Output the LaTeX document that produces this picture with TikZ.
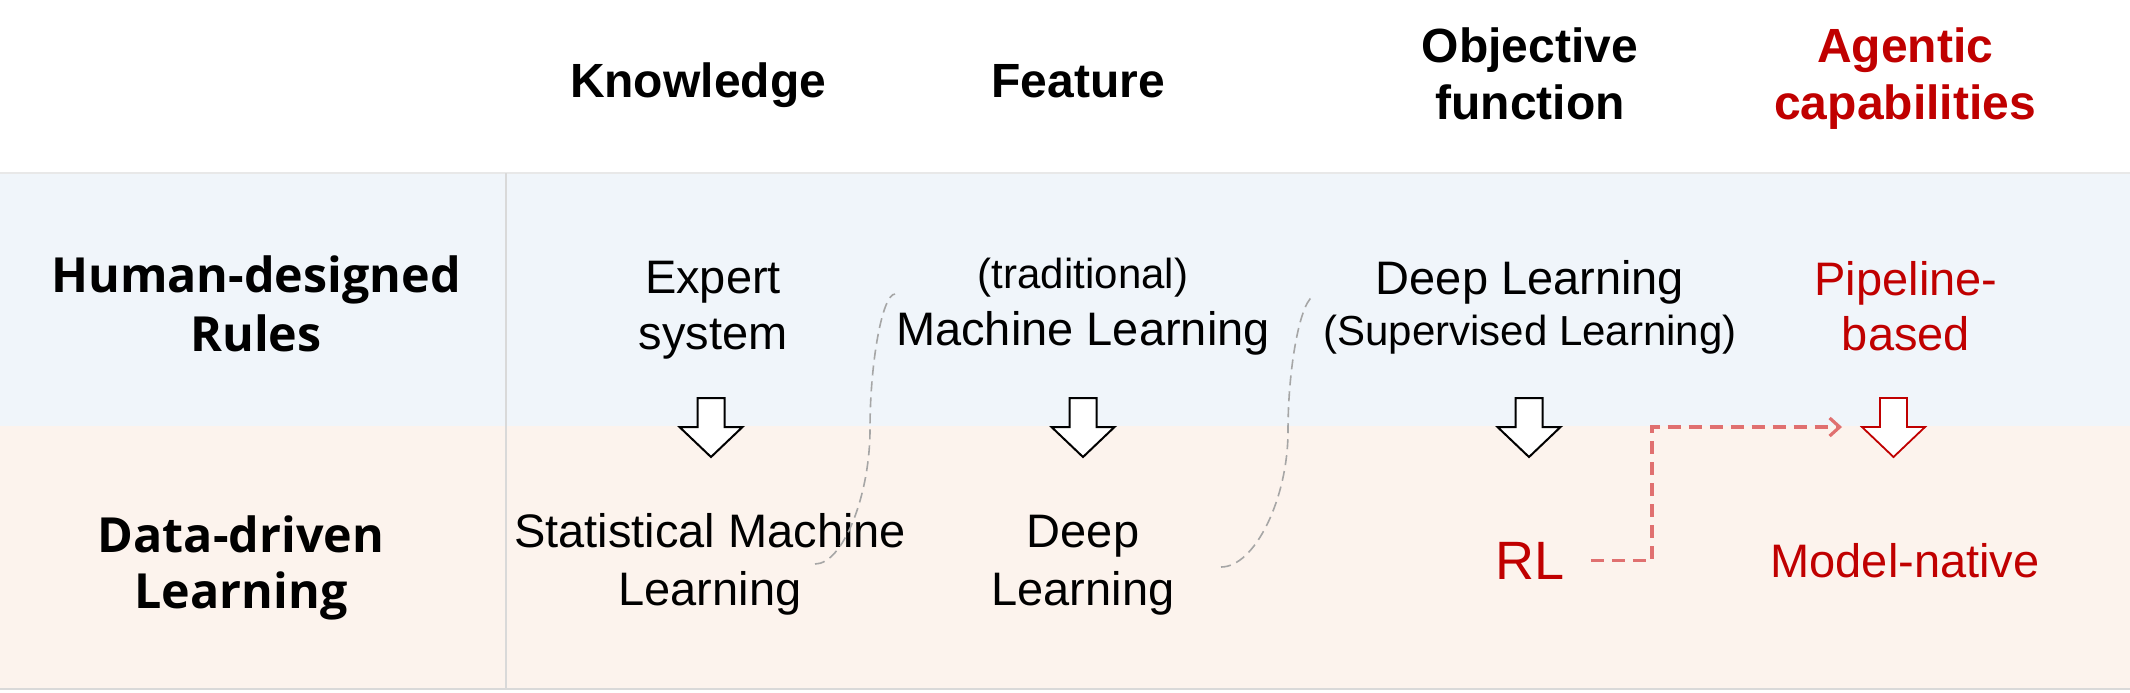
\documentclass[tikz,border=0pt]{standalone}
\usepackage{fontspec}
\setmainfont{Liberation Sans}
\newfontfamily\rowfont{Open Sans}
\usetikzlibrary{arrows.meta,calc}
\definecolor{bandblue}{HTML}{F0F5FA}
\definecolor{bandpeach}{HTML}{FCF3ED}
\definecolor{rulegray}{HTML}{D9D9D9}
\definecolor{agred}{HTML}{C00000}
\definecolor{rlred}{HTML}{E07070}
\definecolor{curvegray}{HTML}{A6A6A6}
\begin{document}
\begin{tikzpicture}[x=0.5pt,y=-0.5pt,
  txt/.style={inner sep=0pt, align=center, anchor=base},
  body/.style={txt, font=\fontsize{23.5}{28.5}\selectfont},
  head/.style={txt, font=\fontsize{24}{28.5}\selectfont\bfseries},
  rowlbl/.style={txt, font=\rowfont\fontsize{24.2}{29.5}\selectfont\bfseries},
  red text/.style={text=agred},
  blockarrow/.pic={
    \path[pic actions] (-13.5,0) -- (13.5,0) -- (13.5,29) -- (31.5,29) -- (0,59)
      -- (-31.5,29) -- (-13.5,29) -- cycle;
    \coordinate (-w) at (-31.5,29);},
  blackarrow/.style={draw=black, fill=white, line width=1pt, line join=miter},
  redarrow/.style={draw=agred, fill=white, line width=0.9pt, line join=miter},
  greydash/.style={draw=curvegray, line width=0.8pt, dash pattern=on 5pt off 3pt},
  rldash/.style={draw=rlred, line width=1.6pt, dash pattern=on 6.5pt off 4pt,
    -{Straight Barb[length=5pt,width=9pt,line width=1.6pt]}},
]
\useasboundingbox (0,0) rectangle (2130,692);
% bands
\fill[white] (0,0) rectangle (2130,692);
\fill[bandblue] (0,173) rectangle (2130,426);
\fill[bandpeach] (0,426) rectangle (2130,689);
\draw[rulegray!60, line width=0.6pt] (0,173) -- (2130,173);
\draw[rulegray, line width=0.8pt] (0,689) -- (2130,689);
\draw[rulegray, line width=0.8pt] (506,173) -- (506,689);

% column headers (base = last line)
\node[head] (hknow) at (698,97) {Knowledge};
\node[head] (hfeat) at (1078,97) {Feature};
\node[head] (hobj) at (1530,119) {Objective\\function};
\node[head, red text] (hag) at (1905,119) {Agentic\\capabilities};

% row labels
\node[rowlbl] (rhuman) at (256,351) {Human-designed\\Rules};
\node[rowlbl, font=\rowfont\fontsize{24.2}{28}\selectfont\bfseries] (rdata) at (241,608) {Data-driven\\Learning};

% top row
\node[body, font=\fontsize{23.5}{28}\selectfont] (expert) at (713,349) {Expert\\system};
\node[body, font=\fontsize{23.5}{28.5}\selectfont] (tradml) at (1083,345) {{\fontsize{21}{28.5}\selectfont (traditional)}\\Machine Learning};
\node[body, font=\fontsize{23.5}{25.5}\selectfont] (dlsup) at (1530,345) {Deep Learning\\{\fontsize{21}{25.5}\selectfont (Supervised Learning)}};
\node[body, red text, font=\fontsize{23.5}{27.5}\selectfont] (pipe) at (1906,350) {Pipeline-\\based};

% bottom row
\node[body, font=\fontsize{23.5}{29}\selectfont] (sml) at (710,605) {Statistical Machine\\Learning};
\node[body, font=\fontsize{23.5}{29}\selectfont] (dl) at (1083,605) {Deep\\Learning};
\node[txt, red text, font=\fontsize{27}{32}\selectfont] (rl) at (1530,579) {RL};
\node[body, red text] (mn) at (1905,577) {Model-native};

% block arrows
\pic[blackarrow] (a1) at (711,398) {blockarrow};
\pic[blackarrow] (a2) at (1083,398) {blockarrow};
\pic[blackarrow] (a3) at (1529,398) {blockarrow};
\pic[redarrow] (a4) at (1893.5,398) {blockarrow};

% grey dashed curves
\coordinate (c1a) at (815,564);
\coordinate (c1b) at (895,294);
\draw[greydash] (c1a) .. controls (842.5,564) and (870,496.5) .. (870,429)
  .. controls (870,361.5) and (882.5,294) .. (c1b);
\coordinate (c2a) at (1221,567);
\coordinate (c2b) at (1315,296);
\draw[greydash] (c2a) .. controls (1254.5,567) and (1288,499) .. (1288,431)
  .. controls (1288,363.5) and (1301.5,296) .. (c2b);

% RL to agentic dashed arrow
\coordinate (bend) at (1652,427);
\draw[rldash] ([xshift=13pt]rl.east) -| (bend) -- ([xshift=-10pt]a4-w);
\end{tikzpicture}
\end{document}
